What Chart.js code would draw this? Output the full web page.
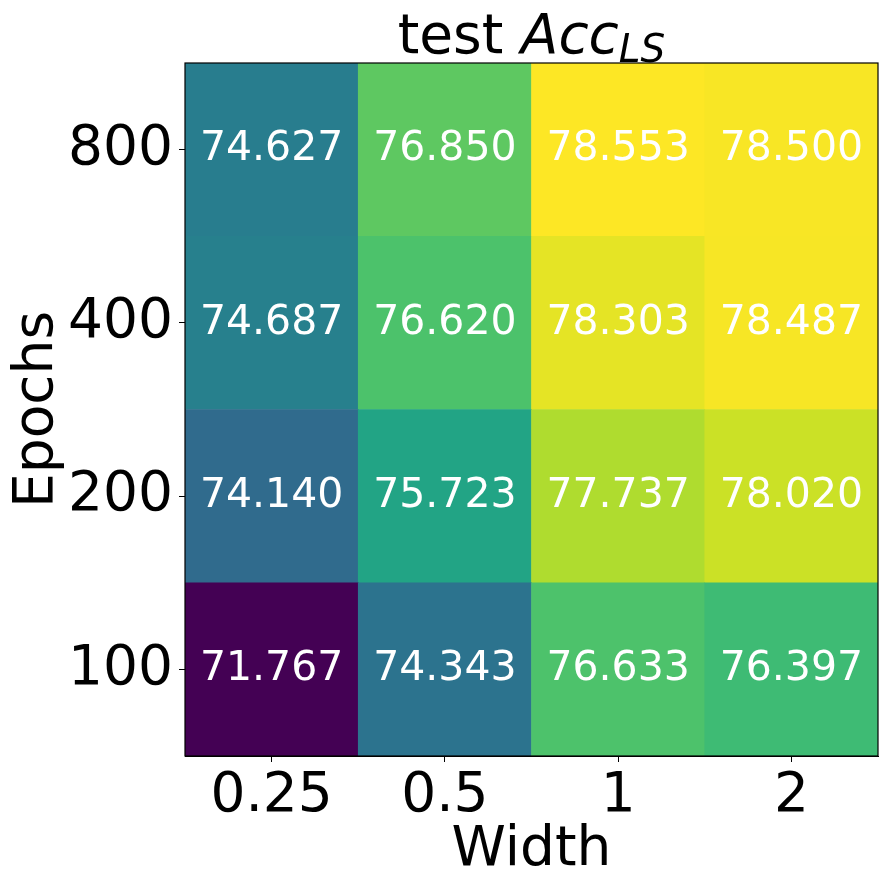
<!DOCTYPE html>
<html>
<head>
<meta charset="utf-8">
<script src="https://cdn.jsdelivr.net/npm/chart.js@4"></script>
<style>
  html, body { margin: 0; padding: 0; background: #fff; }
  canvas { display: block; }
</style>
</head>
<body>
<canvas id="heat" width="888" height="889"></canvas>
<script>
const widths = ["0.25", "0.5", "1", "2"];
const epochs = ["100", "200", "400", "800"];
const acc100 = [71.767, 74.343, 76.633, 76.397];
const acc200 = [74.140, 75.723, 77.737, 78.020];
const acc400 = [74.687, 76.620, 78.303, 78.487];
const acc800 = [74.627, 76.850, 78.553, 78.500];
const rows = [acc100, acc200, acc400, acc800];

// viridis stops for the colormap
const viridis = ["#440154", "#482475", "#414487", "#355f8d", "#2a788e", "#21918c",
  "#22a884", "#44bf70", "#7ad151", "#bddf26", "#fde725"];

const hex = (h) => [1, 3, 5].map((i) => parseInt(h.slice(i, i + 2), 16));

const allVals = rows.flat();
const vmin = Math.min(...allVals);
const vmax = Math.max(...allVals);

const colorFor = (v) => {
  const t = Math.min(1, Math.max(0, (v - vmin) / (vmax - vmin))) * (viridis.length - 1);
  const i = Math.min(viridis.length - 2, Math.floor(t));
  const f = t - i;
  const a = hex(viridis[i]), b = hex(viridis[i + 1]);
  const c = a.map((x, k) => Math.round(x + (b[k] - x) * f));
  return `rgb(${c[0]},${c[1]},${c[2]})`;
};

const FONT = "DejaVu Sans";
Chart.defaults.font.family = FONT;
Chart.defaults.color = "#000";

const cellLabels = {
  id: "cellLabels",
  afterDatasetsDraw(chart) {
    const { ctx } = chart;
    ctx.save();
    ctx.fillStyle = "#fff";
    ctx.font = `41px "${FONT}"`;
    ctx.textAlign = "center";
    ctx.textBaseline = "middle";
    chart.data.datasets.forEach((ds, di) => {
      chart.getDatasetMeta(di).data.forEach((el, i) => {
        ctx.fillText(ds.values[i].toFixed(3), el.x, (el.y + el.base) / 2);
      });
    });
    ctx.restore();
  },
};

const frame = {
  id: "frame",
  afterDraw(chart) {
    const { ctx, chartArea: a } = chart;
    ctx.save();
    ctx.strokeStyle = "#000";
    ctx.lineWidth = 1.2;
    ctx.strokeRect(a.left, a.top, a.right - a.left, a.bottom - a.top);

    // title: "test " + italic Acc with subscript LS
    const big = 55, small = 39;
    const parts = [
      { t: "test ", f: `${big}px "${FONT}"`, dy: 0 },
      { t: "Acc", f: `italic ${big}px "${FONT}"`, dy: 0 },
      { t: "LS", f: `italic ${small}px "${FONT}"`, dy: 9 },
    ];
    let total = 0;
    parts.forEach((p) => { ctx.font = p.f; p.w = ctx.measureText(p.t).width; total += p.w; });
    let x = (a.left + a.right) / 2 - total / 2;
    const base = 53;
    ctx.fillStyle = "#000";
    ctx.textBaseline = "alphabetic";
    ctx.textAlign = "left";
    parts.forEach((p) => { ctx.font = p.f; ctx.fillText(p.t, x, base + p.dy); x += p.w; });
    ctx.restore();
  },
};

const datasets = rows.map((vals, r) => ({
  label: epochs[r],
  values: vals,
  data: vals.map(() => [r, r + 1]),
  backgroundColor: vals.map(colorFor),
  borderWidth: 0,
  barPercentage: 1,
  categoryPercentage: 1,
  grouped: false,
}));

new Chart(document.getElementById("heat"), {
  type: "bar",
  data: { labels: widths, datasets },
  options: {
    responsive: false,
    animation: false,
    devicePixelRatio: 1,
    layout: { padding: { top: 63, right: 10, bottom: 0, left: 0 } },
    plugins: { legend: { display: false }, tooltip: { enabled: false } },
    scales: {
      x: {
        grid: { offset: false, drawOnChartArea: false, drawTicks: true, tickLength: 6, tickColor: "#000", tickWidth: 1 },
        border: { display: true, color: "#000", width: 1 },
        ticks: { font: { size: 55 }, padding: 2, maxRotation: 0, color: "#000" },
        title: { display: true, text: "Width", font: { size: 55 }, padding: { top: 0, bottom: 5 }, color: "#000" },
        afterFit: (s) => { s.height = 133; },
      },
      y: {
        min: 0,
        max: 4,
        grid: { drawOnChartArea: false, drawTicks: true, tickLength: 6, tickColor: "#000", tickWidth: 1 },
        border: { display: true, color: "#000", width: 1 },
        afterBuildTicks: (s) => { s.ticks = [0.5, 1.5, 2.5, 3.5].map((v) => ({ value: v })); },
        ticks: {
          font: { size: 55 },
          padding: 6,
          color: "#000",
          callback: (v) => epochs[Math.floor(v)],
        },
        title: { display: true, text: "Epochs", font: { size: 55 }, padding: { top: 5, bottom: 0 }, color: "#000" },
        afterFit: (s) => { s.width = 185; },
      },
    },
  },
  plugins: [cellLabels, frame],
});
</script>
</body>
</html>
